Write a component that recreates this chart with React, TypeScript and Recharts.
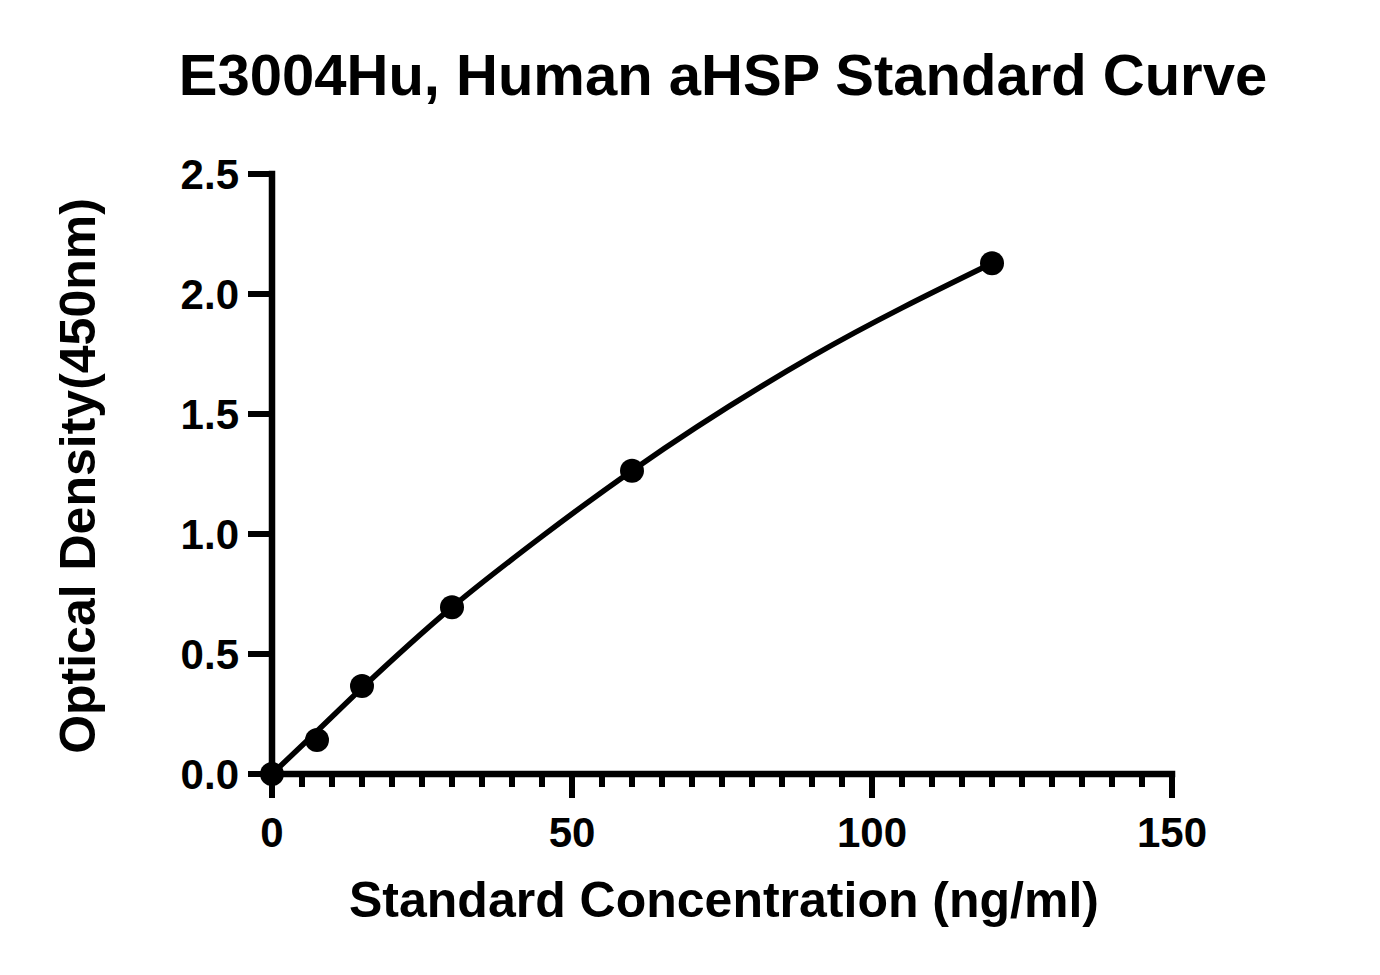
import React from 'react';
import { ComposedChart, Line, Scatter, XAxis, YAxis } from 'recharts';

// Pontos medidos do padrão (concentração ng/ml x densidade óptica)
const concentrations = [0, 7.5, 15, 30, 60, 120];
const odValues = [0.0, 0.142, 0.367, 0.695, 1.264, 2.128];

const fitConcentrations = [0, 7.5, 15, 30, 45, 60, 90, 120];
const fitOd = [0.0, 0.178, 0.358, 0.695, 0.99, 1.264, 1.74, 2.128];

const xTicks = [0, 5, 10, 15, 20, 25, 30, 35, 40, 45, 50, 55, 60, 65, 70, 75, 80, 85, 90, 95, 100, 105, 110, 115, 120, 125, 130, 135, 140, 145, 150];
const yTicks = [0, 0.5, 1.0, 1.5, 2.0, 2.5];

const title = 'E3004Hu, Human aHSP Standard Curve';
const xTitle = 'Standard Concentration (ng/ml)';
const yTitle = 'Optical Density(450nm)';

const FONT = '"Liberation Sans", Arial, Helvetica, sans-serif';

const pointData = concentrations.map((c, i) => ({ conc: c, od: odValues[i] }));
const fitData = fitConcentrations.map((c, i) => ({ conc: c, od: fitOd[i] }));

// Tick do eixo X: maior a cada 50, menor a cada 5
const XTick = (props: any) => {
  const { x, y, payload } = props;
  const v = payload.value;
  const major = v % 50 === 0;
  return (
    <g>
      <line x1={x} x2={x} y1={y} y2={y + (major ? 24 : 13)} stroke="#000" strokeWidth={6} />
      {major && (
        <text x={x} y={y + 73} textAnchor="middle" fontFamily={FONT} fontWeight="bold" fontSize={42} fill="#000">
          {v}
        </text>
      )}
    </g>
  );
};

const YTick = (props: any) => {
  const { x, y, payload } = props;
  return (
    <g>
      <line x1={x} x2={x - 24} y1={y} y2={y} stroke="#000" strokeWidth={6} />
      <text x={x - 33} y={y + 15} textAnchor="end" fontFamily={FONT} fontWeight="bold" fontSize={42} fill="#000">
        {payload.value.toFixed(1)}
      </text>
    </g>
  );
};

const Dot = (props: any) => {
  const { cx, cy } = props;
  return <circle cx={cx} cy={cy} r={12} fill="#000" />;
};

export default function App() {
  return (
    <div style={{ position: 'absolute', left: 0, top: 0, width: 1380, height: 975, background: '#fff' }}>
      <ComposedChart
        width={1380}
        height={975}
        margin={{ top: 174, right: 208, bottom: 101, left: 172 }}
      >
        <XAxis
          type="number"
          dataKey="conc"
          domain={[0, 150]}
          ticks={xTicks}
          interval={0}
          height={100}
          tickSize={0}
          tickMargin={0}
          tickLine={false}
          tick={<XTick />}
          axisLine={{ stroke: '#000', strokeWidth: 6.5, strokeLinecap: 'square' }}
        />
        <YAxis
          type="number"
          dataKey="od"
          domain={[0, 2.5]}
          ticks={yTicks}
          interval={0}
          width={100}
          tickSize={0}
          tickMargin={0}
          tickLine={false}
          tick={<YTick />}
          axisLine={{ stroke: '#000', strokeWidth: 6.5, strokeLinecap: 'square' }}
        />
        <Line
          data={fitData}
          type="monotone"
          dataKey="od"
          stroke="#000"
          strokeWidth={5.5}
          dot={false}
          activeDot={false}
          isAnimationActive={false}
        />
        <Scatter
          data={pointData}
          dataKey="od"
          fill="#000"
          shape={<Dot />}
          isAnimationActive={false}
        />
      </ComposedChart>
      <svg width={1380} height={975} style={{ position: 'absolute', left: 0, top: 0, pointerEvents: 'none' }}>
        <text x={723} y={95} textAnchor="middle" fontFamily={FONT} fontWeight="bold" fontSize={58} fill="#000">
          {title}
        </text>
        <text x={724} y={917} textAnchor="middle" fontFamily={FONT} fontWeight="bold" fontSize={50} fill="#000">
          {xTitle}
        </text>
        <text
          x={95}
          y={476}
          textAnchor="middle"
          transform="rotate(-90 95 476)"
          fontFamily={FONT}
          fontWeight="bold"
          fontSize={50}
          fill="#000"
        >
          {yTitle}
        </text>
      </svg>
    </div>
  );
}
